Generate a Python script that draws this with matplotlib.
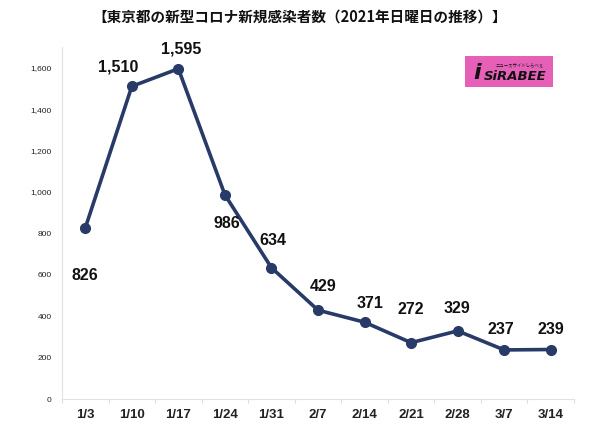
import matplotlib
matplotlib.use("Agg")
import matplotlib.pyplot as plt
from matplotlib.patches import Rectangle
from matplotlib.ticker import FuncFormatter

plt.rcParams['font.family'] = ['Noto Sans CJK JP', 'DejaVu Sans']

dates = ["1/3", "1/10", "1/17", "1/24", "1/31", "2/7", "2/14", "2/21", "2/28", "3/7", "3/14"]
cases = [826, 1510, 1595, 986, 634, 429, 371, 272, 329, 237, 239]
# label offsets in pixels (dx, dy)
label_offsets = [(0, -48), (-14, 19), (3, 20), (2, -29), (1, 27), (5, 24), (5, 19), (0, 33), (-1, 22), (-3, 20), (0, 20)]

title = "【東京都の新型コロナ新規感染者数（2021年日曜日の推移）】"

fig = plt.figure(figsize=(6, 4.25), dpi=100)
ax = fig.add_axes([62/600, 1-399/425, (574-62)/600, (399-47)/425])

x = list(range(len(dates)))
navy = "#283A68"
ax.plot(x, cases, color=navy, lw=2.6, marker="o", ms=7, mfc=navy, mec=navy, zorder=3)

for xi, v, (dx, dy) in zip(x, cases, label_offsets):
    ax.annotate(f"{v:,}", (xi, v), xytext=(dx*0.72, dy*0.72), textcoords="offset points",
                ha="center", va="center", fontsize=11.5, fontweight="bold", color="#111111",
                family="Liberation Sans")

ax.set_xlim(-0.5, len(dates)-0.5)
ax.set_ylim(0, 1700)
ax.set_yticks(range(0, 1601, 200))
ax.yaxis.set_major_formatter(FuncFormatter(lambda v, p: f"{int(v):,}"))
ax.set_xticks(x)
ax.set_xticklabels(dates, fontsize=9.5, fontweight="bold", color="#222222", family="Liberation Sans")
ax.set_xticks([i - 0.5 for i in range(len(dates)+1)], minor=True)
ax.tick_params(axis="x", which="major", length=0, pad=7)
ax.tick_params(axis="x", which="minor", length=3, color="#dddddd", width=0.8)
ax.tick_params(axis="y", length=0, labelsize=6, pad=7.5, labelcolor="#222222")
for lbl in ax.get_yticklabels():
    lbl.set_family("Liberation Sans")

for s in ["top", "right"]:
    ax.spines[s].set_visible(False)
for s in ["left", "bottom"]:
    ax.spines[s].set_color("#e2e2e2")
    ax.spines[s].set_linewidth(0.8)

fig.text(0.5, 1-17/425, title, ha="center", va="center", fontsize=10.5, fontweight="bold", color="#111111")

# SIRABEE logo
lx0, ly0, lw, lh = 465, 56, 88, 31
fig.patches.append(Rectangle((lx0/600, 1-(ly0+lh)/425), lw/600, lh/425, transform=fig.transFigure,
                             facecolor="#E660B8", edgecolor="none", zorder=5))
fig.text((lx0+50)/600, 1-(ly0+21)/425, "SiRABEE", ha="center", va="center", fontsize=9.5,
         fontweight="heavy", style="italic", color="#111111", zorder=6, family="DejaVu Sans")
fig.text((lx0+55)/600, 1-(ly0+9)/425, "ニュースサイトしらべぇ", ha="center", va="center", fontsize=3.2,
         color="#111111", zorder=6)
fig.text((lx0+12)/600, 1-(ly0+17)/425, "i", ha="center", va="center", fontsize=16,
         fontweight="heavy", style="italic", color="#111111", zorder=6, family="DejaVu Sans")

fig.savefig("out.png", dpi=100, facecolor="white")
